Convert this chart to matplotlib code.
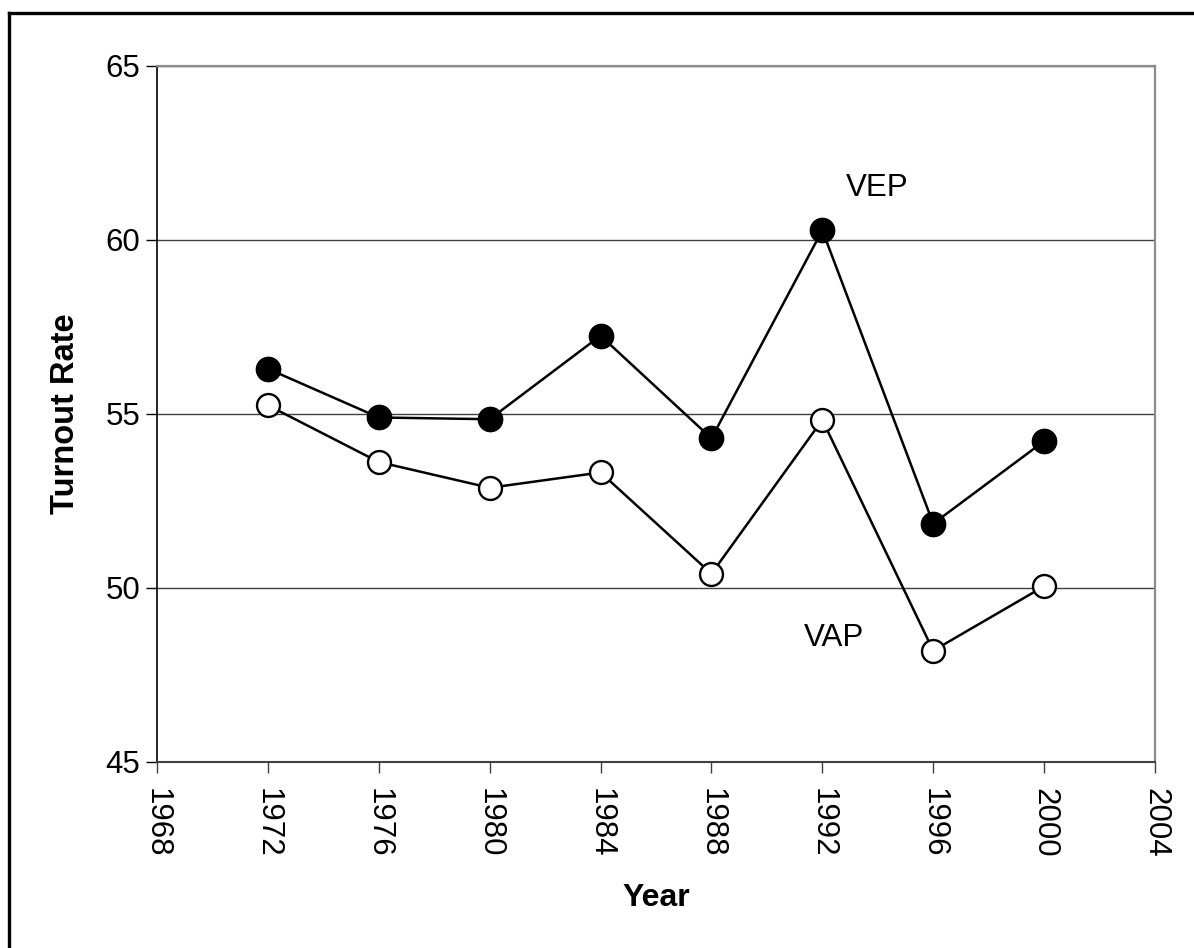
import matplotlib.pyplot as plt
from matplotlib.lines import Line2D

plt.rcParams['font.family'] = ['Liberation Sans', 'DejaVu Sans']

# turnout rates
years = [1972, 1976, 1980, 1984, 1988, 1992, 1996, 2000]
vep = [56.3, 54.9, 54.85, 57.25, 54.3, 60.28, 51.85, 54.22]
vap = [55.25, 53.62, 52.88, 53.32, 50.41, 54.83, 48.2, 50.05]
xticks = list(range(1968, 2005, 4))
yticks = [45, 50, 55, 60, 65]

fig = plt.figure(figsize=(11.94, 9.48), dpi=100)
ax = fig.add_axes([157/1194, 1 - 762/948, (1155 - 157)/1194, (762 - 66)/948])

# frame of the original picture: only top and left edges are left after the crop
fig.lines.append(Line2D([9/1194, 1.0], [1 - 13/948, 1 - 13/948],
                        transform=fig.transFigure, color='black', linewidth=2.4))
fig.lines.append(Line2D([9/1194, 9/1194], [0.0, 1 - 13/948],
                        transform=fig.transFigure, color='black', linewidth=2.4))

ax.plot(years, vep, color='black', linewidth=1.8, marker='o', markersize=17.5,
        markerfacecolor='black', markeredgecolor='black', zorder=3)
ax.plot(years, vap, color='black', linewidth=1.8, marker='o', markersize=16.5,
        markerfacecolor='white', markeredgecolor='black', markeredgewidth=1.7, zorder=3)

ax.text(1992.85, 61.5, 'VEP', fontsize=22.5, va='center', ha='left')
ax.text(1991.35, 48.56, 'VAP', fontsize=22.5, va='center', ha='left')

ax.set_xlim(1968, 2004)
ax.set_ylim(45, 65)
ax.set_xticks(xticks)
ax.set_yticks(yticks)
ax.tick_params(axis='x', labelrotation=-90, labelsize=22.5, length=8, width=1,
               direction='out', pad=11, color='#404040')
ax.tick_params(axis='y', labelsize=22.5, length=8, width=1, direction='out', pad=4)
ax.grid(axis='y', color='#404040', linewidth=1)
ax.set_axisbelow(True)

for side in ['top', 'right']:
    ax.spines[side].set_color('#8c8c8c')
    ax.spines[side].set_linewidth(1.6)
ax.spines['left'].set_color('black')
ax.spines['left'].set_linewidth(1.2)
ax.spines['bottom'].set_color('#404040')
ax.spines['bottom'].set_linewidth(1.5)

ax.set_xlabel('Year', fontsize=23, fontweight='bold', labelpad=18)
ax.set_ylabel('Turnout Rate', fontsize=23.5, fontweight='bold', labelpad=18)

fig.savefig('out.png', dpi=100)
